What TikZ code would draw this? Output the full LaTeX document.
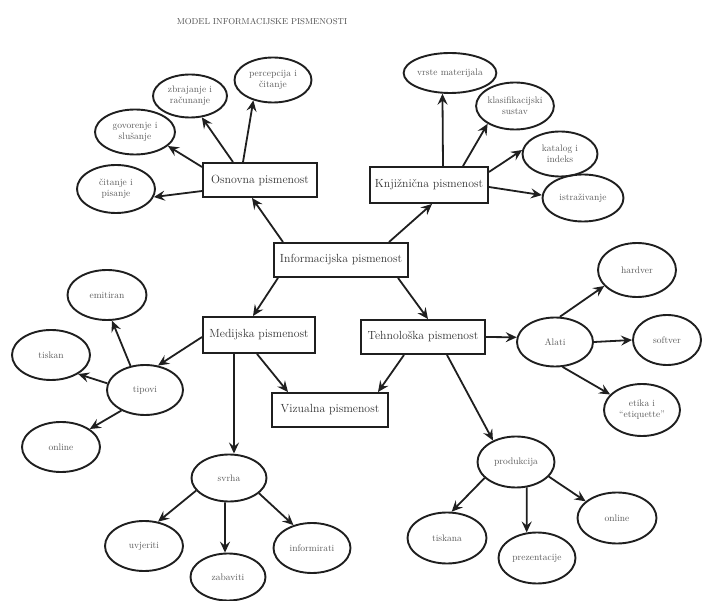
\documentclass[tikz,border=0pt]{standalone}
\usetikzlibrary{arrows.meta,shapes.geometric}
\begin{document}
\begin{tikzpicture}[x=1pt,y=-1pt,
  box/.style={draw=black!88, line width=1.9pt, rectangle, inner sep=0pt,
    text=black!80, font=\fontsize{11.8}{13}\selectfont},
  oval/.style={draw=black!88, line width=1.9pt, ellipse, inner sep=0pt,
    align=center, text=black!65, font=\fontsize{9.5}{11}\selectfont},
  arr/.style={draw=black!88, line width=1.8pt, -{Stealth[length=11pt,width=10pt,inset=4pt]}},
  ttl/.style={text=black!70, font=\fontsize{8.6}{10}\selectfont}]
\useasboundingbox (0,0) rectangle (702,601);

\node[ttl] (title) at (262,22) {MODEL INFORMACIJSKE PISMENOSTI};

% boxes
\node[box, minimum width=114pt, minimum height=34pt] (osn) at (260,180) {Osnovna pismenost};
\node[box, minimum width=118pt, minimum height=36pt] (knj) at (429,185) {Knjižnična pismenost};
\node[box, minimum width=134pt, minimum height=34pt] (inf) at (341,260) {Informacijska pismenost};
\node[box, minimum width=112pt, minimum height=36pt] (med) at (259,335) {Medijska pismenost};
\node[box, minimum width=124pt, minimum height=34pt] (teh) at (423,337) {Tehnološka pismenost};
\node[box, minimum width=116pt, minimum height=34pt] (viz) at (330,410) {Vizualna pismenost};

% ellipses
\node[oval, minimum width=78pt, minimum height=48pt] (cit) at (116,189) {čitanje i\\pisanje};
\node[oval, minimum width=80pt, minimum height=45pt] (gov) at (135,132) {govorenje i\\slušanje};
\node[oval, minimum width=74pt, minimum height=43pt] (zbr) at (190,96) {zbrajanje i\\računanje};
\node[oval, minimum width=77pt, minimum height=45pt] (per) at (273,80) {percepcija i\\čitanje};
\node[oval, minimum width=85pt, minimum height=40pt] (vrs) at (450,73) {vrste materijala};
\node[oval, minimum width=75pt, minimum height=47pt] (kla) at (515,106) {klasifikacijski\\sustav};
\node[oval, minimum width=75pt, minimum height=45pt] (kat) at (560,154) {katalog i\\indeks};
\node[oval, minimum width=81pt, minimum height=47pt] (ist) at (583,198) {istraživanje};
\node[oval, minimum width=76pt, minimum height=50pt] (tip) at (145,390) {tipovi};
\node[oval, minimum width=79pt, minimum height=50pt] (emi) at (107,295) {emitiran};
\node[oval, minimum width=78pt, minimum height=50pt] (tis) at (51,355) {tiskan};
\node[oval, minimum width=78pt, minimum height=50pt] (onl1) at (61,447) {online};
\node[oval, minimum width=75pt, minimum height=47pt] (svr) at (229,478) {svrha};
\node[oval, minimum width=78pt, minimum height=50pt] (uvj) at (144,546) {uvjeriti};
\node[oval, minimum width=75pt, minimum height=47pt] (zab) at (228,577) {zabaviti};
\node[oval, minimum width=77pt, minimum height=50pt] (infm) at (312,548) {informirati};
\node[oval, minimum width=76pt, minimum height=49pt] (ala) at (555,342) {Alati};
\node[oval, minimum width=78pt, minimum height=54pt] (har) at (637,270) {hardver};
\node[oval, minimum width=68pt, minimum height=50pt] (sof) at (667,340) {softver};
\node[oval, minimum width=76pt, minimum height=52pt] (eti) at (642,410) {etika i\\``etiquette''};
\node[oval, minimum width=77pt, minimum height=51pt] (pro) at (516,462) {produkcija};
\node[oval, minimum width=79pt, minimum height=51pt] (tsk) at (447,538) {tiskana};
\node[oval, minimum width=77pt, minimum height=51pt] (prz) at (537,558) {prezentacije};
\node[oval, minimum width=79pt, minimum height=51pt] (onl2) at (617,518) {online};

% central links
\draw[arr] ([xshift=-58pt]inf.north) -- ([xshift=-8pt]osn.south);
\draw[arr] ([xshift=48pt]inf.north) -- ([xshift=3pt]knj.south);
\draw[arr] ([xshift=-63pt]inf.south) -- ([xshift=-6pt]med.north);
\draw[arr] ([xshift=57pt]inf.south) -- ([xshift=5pt]teh.north);
\draw[arr] ([xshift=-2pt]med.south) -- ([xshift=-42pt]viz.north);
\draw[arr] ([xshift=-19pt]teh.south) -- ([xshift=48pt]viz.north);

% Osnovna
\draw[arr] ([yshift=-11pt]osn.west) -- (cit.-12);
\draw[arr] ([yshift=13pt]osn.west) -- (gov.-23);
\draw[arr] ([xshift=-27pt]osn.north) -- (zbr.-61);
\draw[arr] ([xshift=-17pt]osn.north) -- (per.-134);

% Knjiznicna
\draw[arr] ([xshift=14pt]knj.north) -- (vrs.-110);
\draw[arr] ([xshift=34pt]knj.north) -- (kla.-147);
\draw[arr] ([yshift=13pt]knj.east) -- (kat.174);
\draw[arr] ([yshift=-2pt]knj.east) -- (ist.176);

% Medijska
\draw[arr] ([yshift=-2pt]med.west) -- (tip.62);
\draw[arr] (tip.121) -- (emi.-79);
\draw[arr] (tip.170) -- (tis.-35);
\draw[arr] (tip.-139) -- (onl1.32);
\draw[arr] ([xshift=-25pt]med.south) -- ([xshift=5pt]svr.north);
\draw[arr] (svr.-159) -- (uvj.60);
\draw[arr] ([xshift=-4pt]svr.south) -- (zab.97);
\draw[arr] (svr.-27) -- (infm.129);

% Tehnoloska
\draw[arr] (teh.east) -- (ala.173);
\draw[arr] (ala.79) -- (har.-154);
\draw[arr] (ala.east) -- (sof.west);
\draw[arr] (ala.-73) -- (eti.154);
\draw[arr] ([xshift=24pt]teh.south) -- (pro.137);
\draw[arr] (pro.-153) -- (tsk.80);
\draw[arr] (pro.-67) -- (prz.112);
\draw[arr] (pro.-24) -- (onl2.152);
\end{tikzpicture}
\end{document}
